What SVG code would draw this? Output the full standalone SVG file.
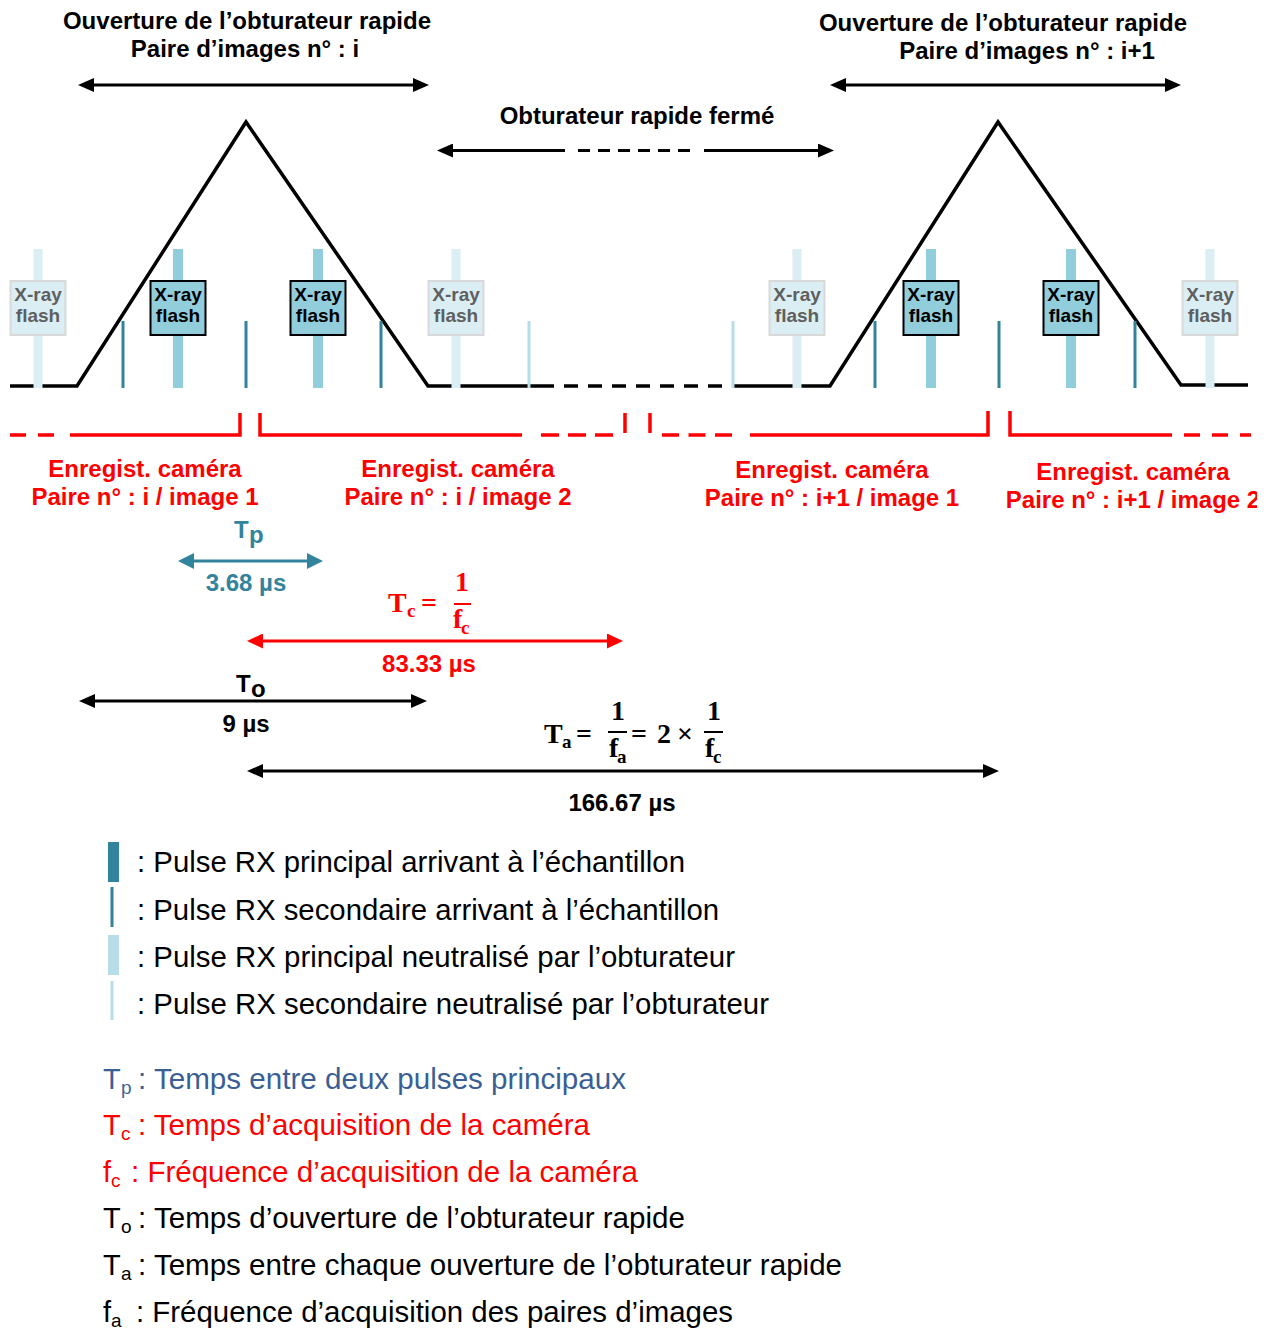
<svg xmlns="http://www.w3.org/2000/svg" width="1271" height="1331" viewBox="0 0 1271 1331">
<style>
.b{font-family:"Liberation Sans",Arial,sans-serif;font-weight:bold;font-size:24px}
.bx{font-family:"Liberation Sans",Arial,sans-serif;font-weight:bold;font-size:19px;text-anchor:middle}
.lg{font-family:"Liberation Sans",Arial,sans-serif;font-size:29px}
.sub{font-family:"Liberation Sans",Arial,sans-serif;font-size:19px}
.m{font-family:"Liberation Serif","Times New Roman",serif;font-weight:bold;font-size:28px}
.msub{font-family:"Liberation Serif","Times New Roman",serif;font-weight:bold;font-size:19px}
.mid{text-anchor:middle}
.red{fill:#FF0000}
.teal{fill:#31849B}
.ax{fill:none;stroke-width:3}
.tri{fill:none;stroke:#000;stroke-width:3.5}
.rl{fill:none;stroke:#FF0000;stroke-width:3.5}
.pA{fill:#92CDDC}
.pN{fill:#DAEEF3}
.sA{fill:#31849B}
.sN{fill:#B7DDE8}
.boxA{fill:#92CDDC;stroke:#000;stroke-width:2}
.boxN{fill:#DAEEF3;stroke:#D9D9D9;stroke-width:2}
.tA{fill:#000}
.tN{fill:#5F5F5F}
</style>
<defs>
<marker id="ahK" markerWidth="16" markerHeight="14" refX="11" refY="7" orient="auto-start-reverse" markerUnits="userSpaceOnUse"><path d="M0,0 L16,7 L0,14 z" fill="#000"/></marker>
<marker id="ahR" markerWidth="16" markerHeight="15" refX="11" refY="7.5" orient="auto-start-reverse" markerUnits="userSpaceOnUse"><path d="M0,0 L16,7.5 L0,15 z" fill="#FF0000"/></marker>
<marker id="ahT" markerWidth="16" markerHeight="16" refX="11" refY="8" orient="auto-start-reverse" markerUnits="userSpaceOnUse"><path d="M0,0 L16,8 L0,16 z" fill="#31849B"/></marker>
<clipPath id="clipR"><rect x="0" y="0" width="1257" height="1331"/></clipPath>
</defs>
<rect width="1271" height="1331" fill="#fff"/>

<g id="label-open-i" class="b mid">
<text x="247" y="29">Ouverture de l’obturateur rapide</text>
<text x="245" y="57">Paire d’images n° : i</text>
</g>
<g id="label-open-i1" class="b mid">
<text x="1003" y="31">Ouverture de l’obturateur rapide</text>
<text x="1027" y="59">Paire d’images n° : i+1</text>
</g>
<g id="label-closed" class="b mid">
<text x="637" y="124">Obturateur rapide fermé</text>
</g>

<g id="shutter-timeline">
<path class="tri" d="M10,386 H77 L246,122 L428,386 H540"/>
<path class="tri" d="M540,386 H735" stroke-dasharray="14 10"/>
<path class="tri" d="M735,386 H830 L998,122 L1181,385 H1248"/>
</g>

<g id="pulses">
<rect class="pN" x="33.5" y="249" width="9" height="139"/>
<rect class="sA" x="121.5" y="321" width="3" height="67"/>
<rect class="pA" x="173" y="249" width="10" height="139"/>
<rect class="sA" x="244.5" y="321" width="3" height="67"/>
<rect class="pA" x="313" y="249" width="10" height="139"/>
<rect class="sA" x="379.5" y="321" width="3" height="67"/>
<rect class="pN" x="451.5" y="249" width="9" height="139"/>
<rect class="sN" x="527.5" y="321" width="3" height="67"/>
<rect class="sN" x="731.5" y="321" width="3" height="67"/>
<rect class="pN" x="792.5" y="249" width="9" height="139"/>
<rect class="sA" x="873.5" y="321" width="3" height="67"/>
<rect class="pA" x="926" y="249" width="10" height="139"/>
<rect class="sA" x="997.5" y="321" width="3" height="67"/>
<rect class="pA" x="1066" y="249" width="10" height="139"/>
<rect class="sA" x="1133.5" y="321" width="3" height="67"/>
<rect class="pN" x="1205.5" y="249" width="9" height="139"/>
</g>

<g id="flash-1"><rect class="boxN" x="10.5" y="281" width="55" height="54"/><text class="bx tN" x="38" y="301">X-ray</text><text class="bx tN" x="38" y="322">flash</text></g>
<g id="flash-2"><rect class="boxA" x="150.5" y="281" width="55" height="54"/><text class="bx tA" x="178" y="301">X-ray</text><text class="bx tA" x="178" y="322">flash</text></g>
<g id="flash-3"><rect class="boxA" x="290.5" y="281" width="55" height="54"/><text class="bx tA" x="318" y="301">X-ray</text><text class="bx tA" x="318" y="322">flash</text></g>
<g id="flash-4"><rect class="boxN" x="428.5" y="281" width="55" height="54"/><text class="bx tN" x="456" y="301">X-ray</text><text class="bx tN" x="456" y="322">flash</text></g>
<g id="flash-5"><rect class="boxN" x="769.5" y="281" width="55" height="54"/><text class="bx tN" x="797" y="301">X-ray</text><text class="bx tN" x="797" y="322">flash</text></g>
<g id="flash-6"><rect class="boxA" x="903.5" y="281" width="55" height="54"/><text class="bx tA" x="931" y="301">X-ray</text><text class="bx tA" x="931" y="322">flash</text></g>
<g id="flash-7"><rect class="boxA" x="1043.5" y="281" width="55" height="54"/><text class="bx tA" x="1071" y="301">X-ray</text><text class="bx tA" x="1071" y="322">flash</text></g>
<g id="flash-8"><rect class="boxN" x="1182.5" y="281" width="55" height="54"/><text class="bx tN" x="1210" y="301">X-ray</text><text class="bx tN" x="1210" y="322">flash</text></g>

<g id="camera-timeline">
<path class="rl" d="M10,435 H55" stroke-dasharray="16 12"/>
<path class="rl" d="M70,435 H240 V413"/>
<path class="rl" d="M260,413 V435 H522"/>
<path class="rl" d="M541,435 H614" stroke-dasharray="18 9"/>
<path class="rl" d="M625,413 V433"/>
<path class="rl" d="M650,413 V433"/>
<path class="rl" d="M662,435 H732" stroke-dasharray="17 9.5"/>
<path class="rl" d="M750,435 H988 V411"/>
<path class="rl" d="M1010,411 V435 H1172"/>
<path class="rl" d="M1184,435 H1251" stroke-dasharray="16 12"/>
</g>

<g id="cam-i-1" class="b mid red"><text x="145" y="477">Enregist. caméra</text><text x="145" y="505">Paire n° : i / image 1</text></g>
<g id="cam-i-2" class="b mid red"><text x="458" y="477">Enregist. caméra</text><text x="458" y="505">Paire n° : i / image 2</text></g>
<g id="cam-i1-1" class="b mid red"><text x="832" y="478">Enregist. caméra</text><text x="832" y="506">Paire n° : i+1 / image 1</text></g>
<g id="cam-i1-2" class="b mid red" clip-path="url(#clipR)"><text x="1133" y="480">Enregist. caméra</text><text x="1133" y="508">Paire n° : i+1 / image 2</text></g>

<g id="connectors">
<line class="ax" stroke="#000" x1="83" y1="85" x2="424" y2="85" marker-start="url(#ahK)" marker-end="url(#ahK)"/>
<line class="ax" stroke="#000" x1="835" y1="85" x2="1176" y2="85" marker-start="url(#ahK)" marker-end="url(#ahK)"/>
<line class="ax" stroke="#000" x1="442" y1="150.5" x2="565" y2="150.5" marker-start="url(#ahK)"/>
<line class="ax" stroke="#000" x1="578" y1="150.5" x2="690" y2="150.5" stroke-dasharray="12 8"/>
<line class="ax" stroke="#000" x1="704" y1="150.5" x2="829" y2="150.5" marker-end="url(#ahK)"/>
<line class="ax" stroke="#31849B" x1="183" y1="561" x2="318" y2="561" marker-start="url(#ahT)" marker-end="url(#ahT)"/>
<line class="ax" stroke="#FF0000" x1="252" y1="641" x2="618" y2="641" marker-start="url(#ahR)" marker-end="url(#ahR)"/>
<line class="ax" stroke="#000" x1="84" y1="701" x2="422" y2="701" marker-start="url(#ahK)" marker-end="url(#ahK)"/>
<line class="ax" stroke="#000" x1="252" y1="771" x2="994" y2="771" marker-start="url(#ahK)" marker-end="url(#ahK)"/>
</g>

<g id="tp-label" class="teal">
<text class="b" x="234" y="538">T</text><text class="b" x="249" y="543" font-size="16">p</text>
<text class="b mid" x="246" y="591">3.68 µs</text>
</g>
<g id="tc-label" class="red">
<text class="m" x="388" y="612">T</text><text class="msub" x="407" y="617">c</text>
<text class="m" x="421" y="612">=</text>
<text class="m mid" x="462" y="591">1</text>
<line x1="454" y1="604" x2="471" y2="604" stroke="#FF0000" stroke-width="2"/>
<text class="m" x="453" y="628">f</text><text class="msub" x="461" y="634">c</text>
<text class="b mid" x="429" y="672">83.33 µs</text>
</g>
<g id="to-label">
<text class="b" x="236" y="692">T</text><text class="b" x="251" y="697" font-size="16">o</text>
<text class="b mid" x="246" y="732">9 µs</text>
</g>
<g id="ta-label">
<text class="m" x="544" y="743">T</text><text class="msub" x="562" y="748">a</text>
<text class="m" x="576" y="743">=</text>
<text class="m mid" x="618" y="720">1</text>
<line x1="608" y1="732" x2="627" y2="732" stroke="#000" stroke-width="2"/>
<text class="m" x="609" y="757">f</text><text class="msub" x="617" y="763">a</text>
<text class="m" x="631" y="743">=</text>
<text class="m" x="657" y="743">2</text>
<text class="m" x="677" y="743">×</text>
<text class="m mid" x="714" y="720">1</text>
<line x1="704" y1="732" x2="723" y2="732" stroke="#000" stroke-width="2"/>
<text class="m" x="705" y="757">f</text><text class="msub" x="713" y="763">c</text>
<text class="b mid" x="622" y="811">166.67 µs</text>
</g>

<g id="legend-pulses">
<rect x="108" y="842" width="11" height="40" fill="#31849B"/>
<text class="lg" x="137" y="872" textLength="548" lengthAdjust="spacingAndGlyphs">: Pulse RX principal arrivant à l’échantillon</text>
<rect x="110.5" y="887" width="3" height="40" fill="#31849B"/>
<text class="lg" x="137" y="920" textLength="582" lengthAdjust="spacingAndGlyphs">: Pulse RX secondaire arrivant à l’échantillon</text>
<rect x="108" y="935" width="11" height="40" fill="#B7DDE8"/>
<text class="lg" x="137" y="967" textLength="598" lengthAdjust="spacingAndGlyphs">: Pulse RX principal neutralisé par l’obturateur</text>
<rect x="110.5" y="981" width="3" height="39" fill="#B7DDE8"/>
<text class="lg" x="137" y="1014" textLength="632" lengthAdjust="spacingAndGlyphs">: Pulse RX secondaire neutralisé par l’obturateur</text>
</g>

<g id="legend-symbols">
<g fill="#3A5F95"><text class="lg" x="103" y="1089">T</text><text class="sub" x="121" y="1094">p</text><text class="lg" x="138" y="1089" textLength="488" lengthAdjust="spacingAndGlyphs">: Temps entre deux pulses principaux</text></g>
<g fill="#FF0000"><text class="lg" x="103" y="1135">T</text><text class="sub" x="121" y="1140">c</text><text class="lg" x="138" y="1135" textLength="452" lengthAdjust="spacingAndGlyphs">: Temps d’acquisition de la caméra</text></g>
<g fill="#FF0000"><text class="lg" x="103" y="1182">f</text><text class="sub" x="111" y="1187">c</text><text class="lg" x="131" y="1182" textLength="507" lengthAdjust="spacingAndGlyphs">: Fréquence d’acquisition de la caméra</text></g>
<g fill="#000"><text class="lg" x="103" y="1228">T</text><text class="sub" x="121" y="1233">o</text><text class="lg" x="138" y="1228" textLength="547" lengthAdjust="spacingAndGlyphs">: Temps d’ouverture de l’obturateur rapide</text></g>
<g fill="#000"><text class="lg" x="103" y="1275">T</text><text class="sub" x="121" y="1280">a</text><text class="lg" x="138" y="1275" textLength="704" lengthAdjust="spacingAndGlyphs">: Temps entre chaque ouverture de l’obturateur rapide</text></g>
<g fill="#000"><text class="lg" x="103" y="1322">f</text><text class="sub" x="111" y="1327">a</text><text class="lg" x="136" y="1322" textLength="597" lengthAdjust="spacingAndGlyphs">: Fréquence d’acquisition des paires d’images</text></g>
</g>
</svg>
